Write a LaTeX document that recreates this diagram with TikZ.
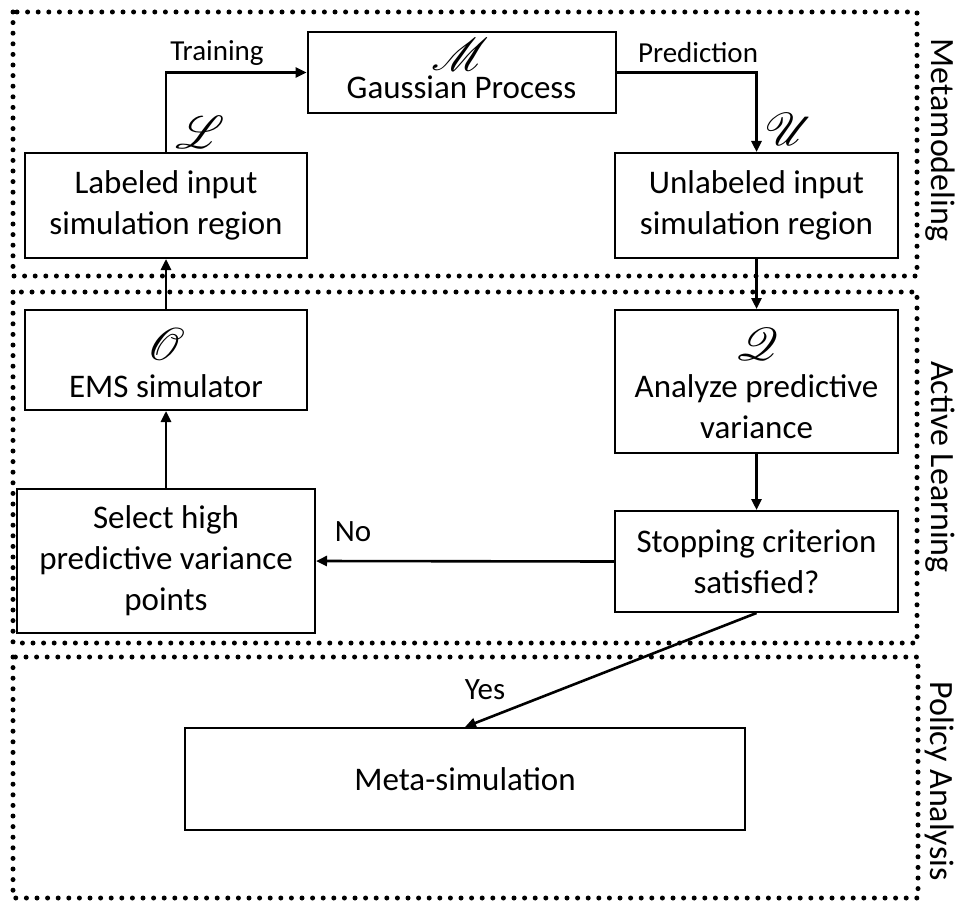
\documentclass[tikz,border=0pt]{standalone}
\usepackage{fontspec}
\setmainfont{Carlito}
\usepackage{mathrsfs}
\usetikzlibrary{arrows.meta}

% script set symbols, scaled up from the 10pt design size
\newcommand\scrsym[1]{{\fontsize{10}{12}\selectfont\scalebox{4.6}{$\mathscr{#1}$}}}

\tikzset{
  stagebox/.style={draw, line width=2pt, inner sep=0pt, align=center,
    font=\fontsize{33}{41}\selectfont},
  regionframe/.style={line width=5pt, line cap=round, dash pattern=on 0pt off 10.6pt},
  regionlabel/.style={rotate=-90, font=\fontsize{34}{40}\selectfont},
  flow/.style={line width=2.6pt, -{Triangle[length=11pt,width=10pt]}},
  flowlabel/.style={font=\fontsize{29}{34}\selectfont, inner sep=0pt},
  symlabel/.style={inner sep=0pt}
}

\begin{document}
\begin{tikzpicture}[x=1pt, y=-1pt]
\useasboundingbox (0,0) rectangle (957,904);

% dotted frames around the three stages
\draw[regionframe] (13,12) rectangle (917,276);
\draw[regionframe] (13,292) rectangle (917,643);
\draw[regionframe] (13,657) rectangle (918,898);

\node[regionlabel] (lblmeta) at (940,140) {Metamodeling};
\node[regionlabel] (lblactive) at (940,467) {Active Learning};
\node[regionlabel] (lblpolicy) at (940,781) {Policy Analysis};

% process boxes
\node[stagebox, minimum width=308pt, minimum height=81pt] (gp) at (461.5,72.5) {};
\node[stagebox, minimum width=282pt, minimum height=105pt] (lab) at (166,205.5)
  {Labeled input\\simulation region};
\node[stagebox, minimum width=283pt, minimum height=105pt] (unl) at (756.5,205.5)
  {Unlabeled input\\simulation region};
\node[stagebox, minimum width=282pt, minimum height=100pt] (ems) at (166,360) {};
\node[stagebox, minimum width=283pt, minimum height=143pt] (ana) at (756.5,381.5) {};
\node[stagebox, minimum width=283pt, minimum height=101pt] (stop) at (756.5,561.5)
  {Stopping criterion\\satisfied?};
\node[stagebox, minimum width=298pt, minimum height=144pt] (sel) at (166,561)
  {Select high\\predictive variance\\points};
\node[stagebox, minimum width=560pt, minimum height=102pt] (meta) at (465,779)
  {Meta-simulation};

% box texts set under their script symbols
\node[symlabel] (symM) at (460,54) {\scrsym{M}};
\node[stagebox, draw=none] (tgp) at (461.5,87) {Gaussian Process};
\node[symlabel] (symO) at (166,344) {\scrsym{O}};
\node[stagebox, draw=none] (tems) at (166,386) {EMS simulator};
\node[symlabel] (symQ) at (757,344) {\scrsym{Q}};
\node[stagebox, draw=none] (tana) at (756.5,406.5) {Analyze predictive\\variance};

% set symbols beside the boxes
\node[symlabel] (symL) at (200,132) {\scrsym{L}};
\node[symlabel] (symU) at (789,129) {\scrsym{U}};

% connectors
\draw[flow] (lab.north) |- (gp.west);
\draw[flow] (gp.east) -| (unl.north);
\draw[flow] (unl.south) -- (ana.north);
\draw[flow] (ana.south) -- (stop.north);
\draw[flow] (stop.west) -- (sel.east);
\draw[flow] (sel.north) -- (ems.south);
\draw[flow] (ems.north) -- (lab.south);
\draw[flow] (stop.south) -- (meta.north);

% connector labels
\node[flowlabel] (ttrain) at (217,53) {Training};
\node[flowlabel] (tpred) at (698,53) {Prediction};
\node[flowlabel, font=\fontsize{31}{36}\selectfont] (tno) at (353,532) {No};
\node[flowlabel, font=\fontsize{31}{36}\selectfont] (tyes) at (485,690) {Yes};
\end{tikzpicture}
\end{document}
